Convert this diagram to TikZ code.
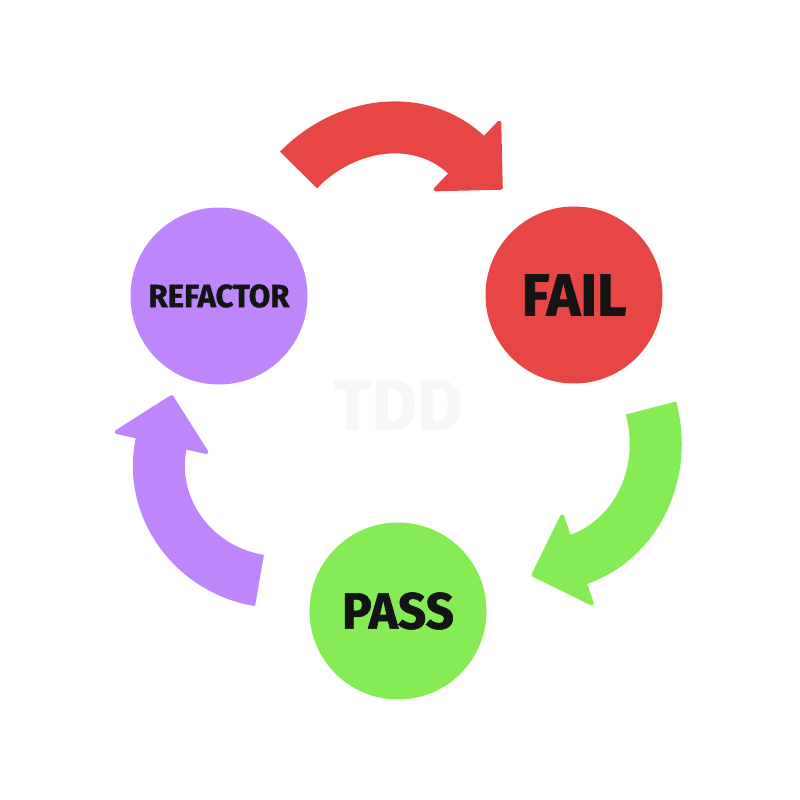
\documentclass[tikz,border=0pt]{standalone}
\usepackage{fontspec}
\newfontfamily\labelfont{Fira Sans}[FakeStretch=0.97, BoldFeatures={FakeBold=1.2}]
\usetikzlibrary{calc}

\definecolor{failred}{HTML}{E84545}
\definecolor{passgreen}{HTML}{85EC55}
\definecolor{refpurple}{HTML}{BD87FB}
\definecolor{inkblack}{HTML}{141414}

\tikzset{
  phase/.style={circle, minimum size=177pt, inner sep=0pt, text=inkblack,
    font=\labelfont\bfseries\fontsize{#1}{#1}\selectfont},
  band/.style={line width=52pt, line cap=butt},
  head/.style={line width=4pt, line join=round},
}

% curved band from #2 to #5 with a triangular head
\newcommand\drawturn[5]{%
  \draw[band, #1] (#2) .. controls (#3) and (#4) .. (#5);
  \filldraw[head, #1] ($(#5)!46pt!90:(#4)$) -- ($(#5)!-46pt!(#4)$) -- ($(#5)!46pt!-90:(#4)$) -- cycle;
}

\begin{document}
\begin{tikzpicture}[x=1pt,y=-1pt]
  \useasboundingbox (0,0) rectangle (800,800);

  \node[phase=32, fill=refpurple] (refactor) at (219,296) {REFACTOR};
  \node[phase=59, fill=failred] (fail) at (574,295) {FAIL};
  \node[phase=51, fill=passgreen] (pass) at (398,611) {PASS};
  \node[font=\labelfont\bfseries\fontsize{72}{72}\selectfont, text=black!3] (tdd) at (398,405) {TDD};

  \coordinate (redS) at (298.5,170);
  \coordinate (redA) at (344.6,122.5);
  \coordinate (redB) at (419.6,110.3);
  \coordinate (redE) at (467.5,156);

  \coordinate (greenS) at (651,408);
  \coordinate (greenA) at (668,471);
  \coordinate (greenB) at (638.5,539);
  \coordinate (greenE) at (577,560);

  \coordinate (purpleS) at (259.5,580.5);
  \coordinate (purpleA) at (193.5,570);
  \coordinate (purpleB) at (147,507);
  \coordinate (purpleE) at (161.5,442);

  \drawturn{failred}{redS}{redA}{redB}{redE}
  \drawturn{passgreen}{greenS}{greenA}{greenB}{greenE}
  \drawturn{refpurple}{purpleS}{purpleA}{purpleB}{purpleE}
\end{tikzpicture}
\end{document}
